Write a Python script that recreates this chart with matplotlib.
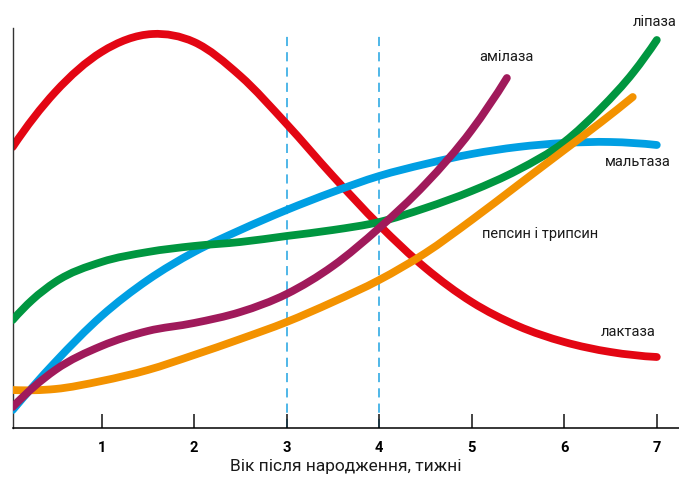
import numpy as np
import matplotlib
matplotlib.use("Agg")
import matplotlib.pyplot as plt
from matplotlib.path import Path
from matplotlib.patches import PathPatch

plt.rcParams['font.family'] = ['Roboto', 'DejaVu Sans']

# weeks after birth, relative enzyme activity
lactase_x = [0.04, 0.5, 1.0, 1.55, 2.0, 2.5, 3.0, 3.5, 4.0, 4.5, 5.0, 5.5, 6.0, 6.5, 7.0]
lactase_y = [70.25, 84.0, 94.0, 98.5, 96.5, 88.0, 76.0, 63.0, 50.75, 40.0, 31.5, 25.5, 21.5, 19.0, 17.75]

maltase_x = [0.04, 0.5, 1.0, 1.5, 2.0, 2.5, 3.0, 3.5, 4.0, 4.5, 5.0, 5.5, 6.0, 6.5, 7.0]
maltase_y = [4.5, 16.5, 28.0, 37.0, 44.0, 49.5, 54.5, 59.0, 63.0, 66.0, 68.5, 70.25, 71.25, 71.5, 70.75]

lipase_x = [0.04, 0.25, 0.5, 1.0, 1.5, 2.0, 2.5, 3.0, 3.5, 4.0, 4.5, 5.0, 5.5, 6.0, 6.4, 6.75, 7.0]
lipase_y = [27.0, 32.0, 36.5, 41.5, 44.0, 45.5, 46.5, 48.0, 49.5, 51.5, 55.0, 59.25, 64.5, 71.5, 80.0, 89.0, 97.0]

pepsin_x = [0.04, 0.5, 1.0, 1.5, 2.0, 2.5, 3.0, 3.5, 4.0, 4.5, 5.0, 5.5, 6.0, 6.4, 6.74]
pepsin_y = [9.5, 9.75, 11.75, 14.5, 18.25, 22.25, 26.5, 31.5, 37.0, 43.75, 52.0, 60.75, 69.5, 76.5, 82.75]

amylase_x = [0.04, 0.5, 1.0, 1.5, 2.0, 2.5, 3.0, 3.5, 4.0, 4.5, 5.0, 5.38]
amylase_y = [5.25, 14.5, 20.5, 24.25, 26.25, 29.0, 33.5, 40.5, 50.0, 61.0, 74.5, 87.5]

week_ticks = [1, 2, 3, 4, 5, 6, 7]
marked_weeks = [3, 4]


def smooth_path(xs, ys):
    # cubic hermite through the points, three-point tangents, as bezier segments
    x = np.asarray(xs, float)
    y = np.asarray(ys, float)
    n = len(x)
    h = np.diff(x)
    d = np.diff(y) / h
    m = np.zeros(n)
    for i in range(1, n - 1):
        m[i] = (h[i] * d[i - 1] + h[i - 1] * d[i]) / (h[i - 1] + h[i])
    m[0] = d[0] + (d[0] - d[1]) * h[0] / (h[0] + h[1])
    m[-1] = d[-1] + (d[-1] - d[-2]) * h[-1] / (h[-1] + h[-2])
    verts = [(x[0], y[0])]
    codes = [Path.MOVETO]
    for i in range(n - 1):
        verts += [(x[i] + h[i] / 3, y[i] + m[i] * h[i] / 3),
                  (x[i + 1] - h[i] / 3, y[i + 1] - m[i + 1] * h[i] / 3),
                  (x[i + 1], y[i + 1])]
        codes += [Path.CURVE4] * 3
    return Path(verts, codes)


fig = plt.figure(figsize=(6.79, 4.79), dpi=100)
ax = fig.add_axes([12.7 / 679, 51 / 479, 1 - 12.7 / 679, 428 / 479])
ax.set_xlim(0.04, 7.24)
ax.set_ylim(0, 107)

for w in marked_weeks:
    ax.plot([w, w], [0, 98.25], color='#1fa3e2', lw=1.1, dashes=(6, 4), zorder=1)

curves = [
    (lactase_x, lactase_y, '#e30613', 2),
    (maltase_x, maltase_y, '#009fe3', 3),
    (lipase_x, lipase_y, '#009640', 4),
    (pepsin_x, pepsin_y, '#f39200', 5),
    (amylase_x, amylase_y, '#a01a5b', 6),
]
for xs, ys, col, z in curves:
    patch = PathPatch(smooth_path(xs, ys), fill=False, edgecolor=col, lw=5.6,
                      capstyle='round', joinstyle='round', zorder=z)
    ax.add_patch(patch)

txt = dict(fontsize=10.5, color='#1a1a1a', va='center')
ax.text(7.21, 101.5, 'ліпаза', ha='right', **txt)
ax.text(5.37, 92.75, 'амілаза', ha='center', **txt)
ax.text(6.44, 66.5, 'мальтаза', ha='left', **txt)
ax.text(5.11, 48.5, 'пепсин і трипсин', ha='left', **txt)
ax.text(6.39, 24.0, 'лактаза', ha='left', **txt)

for s in ['top', 'right']:
    ax.spines[s].set_visible(False)
ax.spines['left'].set_bounds(0, 100)
ax.spines['left'].set_color('#333333')
ax.spines['left'].set_linewidth(1.0)
ax.spines['bottom'].set_linewidth(1.1)
ax.set_yticks([])
ax.set_xticks(week_ticks)
ax.set_xticklabels([str(w) for w in week_ticks], fontweight='bold', fontsize=10.5)
ax.tick_params(axis='x', direction='in', length=10, width=1.1, pad=9, color='#111111')
ax.set_xlabel('Вік після народження, тижні', fontsize=12.5, color='#1a1a1a', labelpad=3)

fig.savefig('out.png', dpi=100)
